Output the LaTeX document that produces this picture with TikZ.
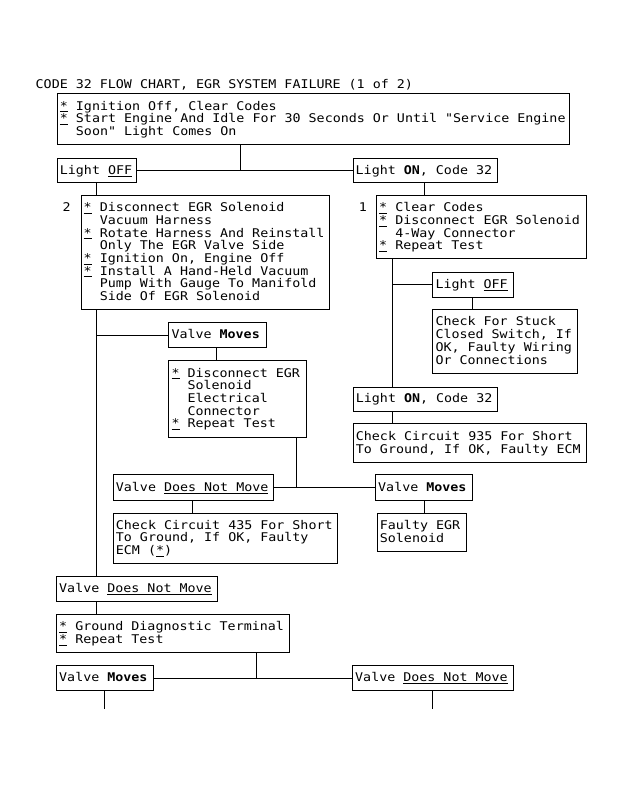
\documentclass[tikz,border=0pt]{standalone}
\usepackage{fontspec}
\newfontfamily\mono{DejaVu Sans Mono}[FakeStretch=1.111,Ligatures=TeXOff]
\newcommand\st{\underline{*}\ }
\newcommand\ind{\phantom{xx}}
\tikzset{
  boxst/.style={draw, line width=1pt, anchor=north west, inner sep=0pt, rectangle},
  txst/.style={anchor=west, align=left, inner sep=0pt,
    font={\mono\fontsize{12}{12.7}\selectfont\frenchspacing},
    execute at begin node=\strut, execute at end node=\strut},
  ln/.style={line width=1pt},
}
\newcommand\fcbox[6]{%
  \node[boxst, minimum width=#4pt, minimum height=#5pt] (#1) at (#2,#3) {};
  \node[txst] (#1t) at ([xshift=3pt,yshift=-1pt]#1.west) {#6};}
\begin{document}
\begin{tikzpicture}[x=1pt,y=-1pt]
\fill[white] (0,0) rectangle (623,785);
\useasboundingbox (0,0) rectangle (623,785);

\node[txst, anchor=base west] (title) at (35.5,88) {CODE 32 FLOW CHART, EGR SYSTEM FAILURE (1 of 2)};

\fcbox{top}{56.7}{93.3}{512.6}{51}{\st Ignition Off, Clear Codes\\
\st Start Engine And Idle For 30 Seconds Or Until "Service Engine\\
\ind Soon" Light Comes On}

\fcbox{lightoff}{56.7}{157.7}{79}{24.6}{Light \underline{OFF}}
\fcbox{lighton}{352.5}{157.7}{144.2}{24.6}{Light \textbf{ON}, Code 32}

\node[txst, anchor=base west] (l2) at (62.5,211.3) {2};
\fcbox{box2}{80.5}{195}{248.5}{114}{\st Disconnect EGR Solenoid\\
\ind Vacuum Harness\\
\st Rotate Harness And Reinstall\\
\ind Only The EGR Valve Side\\
\st Ignition On, Engine Off\\
\st Install A Hand-Held Vacuum\\
\ind Pump With Gauge To Manifold\\
\ind Side Of EGR Solenoid}

\node[txst, anchor=base west] (l1) at (358.7,211.3) {1};
\fcbox{box1}{376}{195}{209.5}{63.3}{\st Clear Codes\\
\st Disconnect EGR Solenoid\\
\ind 4-Way Connector\\
\st Repeat Test}

\fcbox{vmoves1}{168.3}{322.3}{97.7}{25}{Valve \textbf{Moves}}
\fcbox{disc}{168.3}{360}{137.7}{76.7}{\st Disconnect EGR\\
\ind Solenoid\\
\ind Electrical\\
\ind Connector\\
\st Repeat Test}

\fcbox{vdnm1}{112.7}{474.3}{160}{25.7}{Valve \underline{Does Not Move}}
\fcbox{c435}{112.7}{512.7}{224.6}{50}{Check Circuit 435 For Short\\
To Ground, If OK, Faulty\\
ECM (\underline{*})}

\fcbox{loff2}{432.3}{271.7}{80.4}{25}{Light \underline{OFF}}
\fcbox{stuck}{432.3}{309}{145}{63.7}{Check For Stuck\\
Closed Switch, If\\
OK, Faulty Wiring\\
Or Connections}

\fcbox{lon2}{352.7}{386.7}{144}{24}{Light \textbf{ON}, Code 32}
\fcbox{c935}{352.7}{423.3}{233}{39}{Check Circuit 935 For Short\\
To Ground, If OK, Faulty ECM}

\fcbox{vmoves2}{375}{474.3}{97.3}{25.7}{Valve \textbf{Moves}}
\fcbox{faulty}{376.7}{512.7}{89}{38}{Faulty EGR\\
Solenoid}

\fcbox{vdnm2}{56}{576}{160.5}{24.7}{Valve \underline{Does Not Move}}
\fcbox{ground}{56}{614}{232.7}{38}{\st Ground Diagnostic Terminal\\
\st Repeat Test}

\fcbox{vmoves3}{56}{665}{97}{25}{Valve \textbf{Moves}}
\fcbox{vdnm3}{352}{665}{161}{25}{Valve \underline{Does Not Move}}

\coordinate (xa) at (240.7,0);
\coordinate (xb) at (96.7,0);
\coordinate (xc) at (424.3,0);
\coordinate (xd) at (216.5,0);
\coordinate (xe) at (296.7,0);
\coordinate (xf) at (192.3,0);
\coordinate (xg) at (392.8,0);
\coordinate (xh) at (472.3,0);
\coordinate (xi) at (256.7,0);
\coordinate (xj) at (104,0);
\coordinate (xk) at (432,0);
\coordinate (e1) at (104,709);
\coordinate (e2) at (432,709);

\draw[ln] (lightoff.east) -- (lighton.west);
\draw[ln] (top.south -| xa) -- (lightoff.east -| xa);
\draw[ln] (lightoff.south -| xb) -- (box2.north -| xb);
\draw[ln] (lighton.south -| xc) -- (box1.north -| xc);
\draw[ln] (box2.south -| xb) -- (vdnm2.north -| xb);
\draw[ln] (vmoves1.west -| xb) -- (vmoves1.west);
\draw[ln] (vmoves1.south -| xd) -- (disc.north -| xd);
\draw[ln] (disc.south -| xe) -- (vdnm1.east -| xe);
\draw[ln] (vdnm1.east) -- (vmoves2.west);
\draw[ln] (vdnm1.south -| xf) -- (c435.north -| xf);
\draw[ln] (box1.south -| xg) -- (lon2.north -| xg);
\draw[ln] (loff2.west -| xg) -- (loff2.west);
\draw[ln] (loff2.south -| xh) -- (stuck.north -| xh);
\draw[ln] (lon2.south -| xg) -- (c935.north -| xg);
\draw[ln] (vmoves2.south -| xc) -- (faulty.north -| xc);
\draw[ln] (vdnm2.south -| xb) -- (ground.north -| xb);
\draw[ln] (ground.south -| xi) -- (vmoves3.east -| xi);
\draw[ln] (vmoves3.east) -- (vdnm3.west);
\draw[ln] (vmoves3.south -| xj) -- (e1);
\draw[ln] (vdnm3.south -| xk) -- (e2);
\end{tikzpicture}
\end{document}
